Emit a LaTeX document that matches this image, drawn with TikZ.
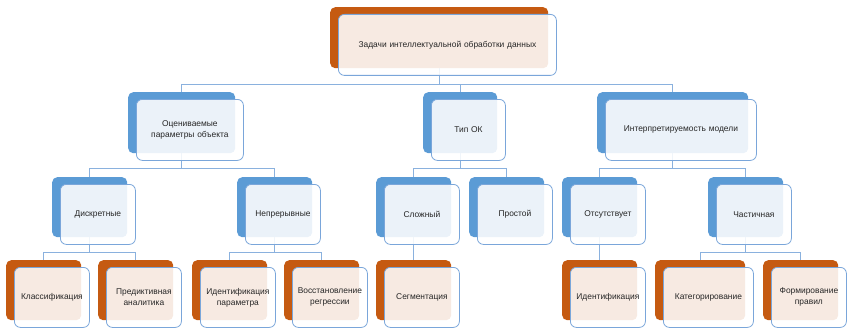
\documentclass[tikz,border=0pt]{standalone}
\usepackage{fontspec}
\setmainfont{Liberation Sans}
\usetikzlibrary{calc}
\definecolor{accorange}{HTML}{C55A11}
\definecolor{accblue}{HTML}{5B9BD5}
\definecolor{frameblue}{HTML}{7AA6DA}
\definecolor{linkblue}{HTML}{8AB1DE}
\definecolor{ink}{HTML}{262626}
\pgfdeclarelayer{links}
\pgfsetlayers{links,main}
\tikzset{
  backbox/.style={rounded corners=5pt, inner sep=0pt, anchor=north west},
  frontbox/.style={draw=frameblue, line width=0.8pt, fill=white, fill opacity=0.88,
    text opacity=1, rounded corners=6pt, inner sep=0pt, anchor=north west,
    align=center, font=\fontsize{8.4}{11}\selectfont, text=ink},
  link/.style={draw=linkblue, line width=0.7pt}
}
% #1 name, #2 left, #3 top, #4 width, #5 height, #6 back colour, #7 label
\newcommand\tierbox[7]{%
  \node[backbox, fill=#6, minimum width=#4pt, minimum height=#5pt] (b-#1) at (#2pt,-#3pt) {};
  \node[frontbox, minimum width=#4pt, minimum height=#5pt, text width=#4pt-2pt]
    (f-#1) at ($(b-#1.north west)+(8pt,-7pt)$) {#7};
}
\begin{document}
\begin{tikzpicture}
\useasboundingbox (0,0) rectangle (849pt,-329pt);
% horizontal bus levels
\coordinate (bus0) at (0,-84pt);
\coordinate (bus1) at (0,-168pt);
\coordinate (bus2) at (0,-252pt);

% root
\tierbox{root}{330}{7}{218}{61}{accorange}{Задачи интеллектуальной обработки данных}
% first level
\tierbox{ocen}{128}{92}{107}{61}{accblue}{Оцениваемые\\параметры объекта}
\tierbox{tip}{423}{92}{74}{61}{accblue}{Тип ОК}
\tierbox{inter}{597}{92}{151}{61}{accblue}{Интерпретируемость модели}
% second level
\tierbox{disc}{52}{177}{75}{60}{accblue}{Дискретные}
\tierbox{cont}{237}{177}{75}{60}{accblue}{Непрерывные}
\tierbox{slozh}{376}{177}{75}{60}{accblue}{Сложный}
\tierbox{prost}{469}{177}{75}{60}{accblue}{Простой}
\tierbox{otsut}{562}{177}{75}{60}{accblue}{Отсутствует}
\tierbox{chast}{708}{177}{75}{60}{accblue}{Частичная}
% third level
\tierbox{klass}{6}{260}{75}{60}{accorange}{Классификация}
\tierbox{pred}{98}{260}{75}{60}{accorange}{Предиктивная\\аналитика}
\tierbox{idpar}{192}{260}{75}{60}{accorange}{Идентификация\\параметра}
\tierbox{vosst}{284}{260}{75}{60}{accorange}{Восстановление\\регрессии}
\tierbox{segm}{376}{260}{75}{60}{accorange}{Сегментация}
\tierbox{ident}{562}{260}{75}{60}{accorange}{Идентификация}
\tierbox{kateg}{655}{260}{90}{60}{accorange}{Категорирование}
\tierbox{form}{763}{260}{75}{60}{accorange}{Формирование\\правил}

\begin{pgfonlayer}{links}
  \foreach \c in {ocen,tip,inter}
    \draw[link] (b-root.south) |- (b-\c.north |- bus0) -- (b-\c.north);
  \foreach \c in {disc,cont}
    \draw[link] (b-ocen.south) |- (b-\c.north |- bus1) -- (b-\c.north);
  \foreach \c in {slozh,prost}
    \draw[link] (b-tip.south) |- (b-\c.north |- bus1) -- (b-\c.north);
  \foreach \c in {otsut,chast}
    \draw[link] (b-inter.south) |- (b-\c.north |- bus1) -- (b-\c.north);
  \foreach \c in {klass,pred}
    \draw[link] (b-disc.south) |- (b-\c.north |- bus2) -- (b-\c.north);
  \foreach \c in {idpar,vosst}
    \draw[link] (b-cont.south) |- (b-\c.north |- bus2) -- (b-\c.north);
  \draw[link] (b-slozh.south) -- (b-segm.north);
  \draw[link] (b-otsut.south) -- (b-ident.north);
  \foreach \c in {kateg,form}
    \draw[link] (b-chast.south) |- (b-\c.north |- bus2) -- (b-\c.north);
\end{pgfonlayer}
\end{tikzpicture}
\end{document}
